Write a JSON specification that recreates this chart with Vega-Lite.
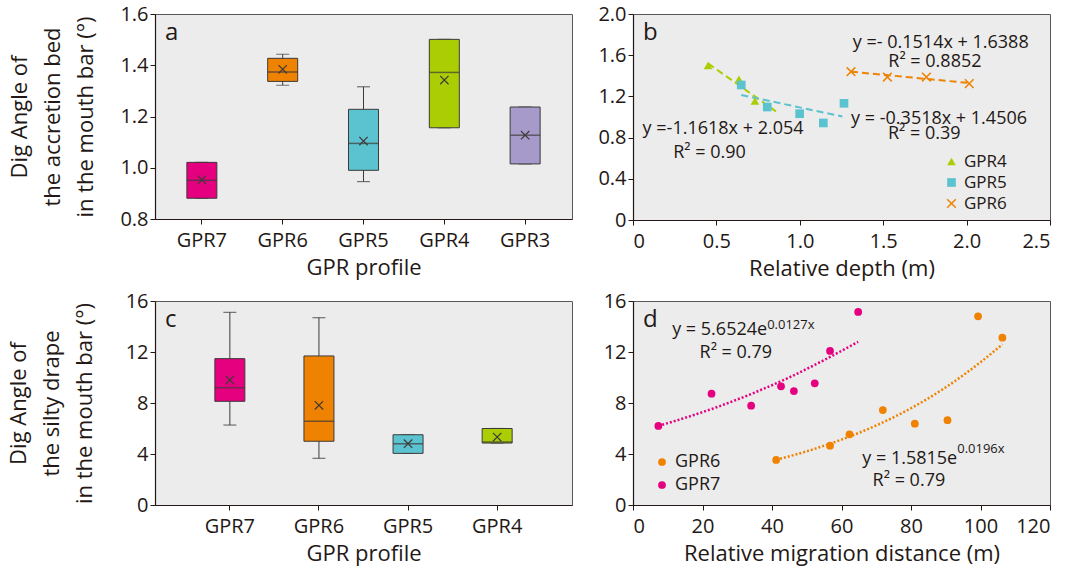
{
  "$schema": "https://vega.github.io/schema/vega-lite/v6.json",
  "background": "white",
  "padding": {"left": 6, "top": 3, "right": 0, "bottom": 2},
  "config": {
    "font": "Open Sans",
    "view": {"fill": "#ececec", "stroke": "#595757", "strokeWidth": 1},
    "axis": {"grid": false, "domainColor": "#231815", "tickColor": "#231815", "labelColor": "#231815", "titleColor": "#231815", "labelFontSize": 20, "titleFontSize": 22, "titleFontWeight": "normal", "tickSize": 5, "labelPadding": 2, "titlePadding": 3, "domainWidth": 1.2},
    "axisX": {"labelPadding": 6, "titlePadding": 7},
    "legend": {"labelColor": "#231815"},
    "text": {"color": "#231815"},
    "title": {"color": "#231815", "fontWeight": "normal", "fontSize": 24}
  },
  "datasets": {
    "boxA": [
      {"profile": "GPR7", "min": 0.881, "q1": 0.881, "median": 0.951, "q3": 1.021, "max": 1.021, "mean": 0.953},
      {"profile": "GPR6", "min": 1.322, "q1": 1.337, "median": 1.374, "q3": 1.427, "max": 1.443, "mean": 1.384},
      {"profile": "GPR5", "min": 0.946, "q1": 0.990, "median": 1.095, "q3": 1.228, "max": 1.316, "mean": 1.104},
      {"profile": "GPR4", "min": 1.156, "q1": 1.156, "median": 1.372, "q3": 1.501, "max": 1.501, "mean": 1.342},
      {"profile": "GPR3", "min": 1.015, "q1": 1.015, "median": 1.127, "q3": 1.237, "max": 1.237, "mean": 1.127}
    ],
    "boxC": [
      {"profile": "GPR7", "min": 6.27, "q1": 8.13, "median": 9.2, "q3": 11.48, "max": 15.11, "mean": 9.8},
      {"profile": "GPR6", "min": 3.66, "q1": 5.0, "median": 6.57, "q3": 11.69, "max": 14.69, "mean": 7.82},
      {"profile": "GPR5", "min": 4.05, "q1": 4.05, "median": 4.81, "q3": 5.51, "max": 5.51, "mean": 4.81},
      {"profile": "GPR4", "min": 4.86, "q1": 4.86, "median": 4.94, "q3": 6.0, "max": 6.0, "mean": 5.33}
    ],
    "depth": [
      {"series": "GPR4", "depth": 0.45, "angle": 1.50},
      {"series": "GPR4", "depth": 0.635, "angle": 1.366},
      {"series": "GPR4", "depth": 0.731, "angle": 1.155},
      {"series": "GPR5", "depth": 0.649, "angle": 1.311},
      {"series": "GPR5", "depth": 0.805, "angle": 1.097},
      {"series": "GPR5", "depth": 0.999, "angle": 1.032},
      {"series": "GPR5", "depth": 1.141, "angle": 0.942},
      {"series": "GPR5", "depth": 1.265, "angle": 1.133},
      {"series": "GPR6", "depth": 1.307, "angle": 1.44},
      {"series": "GPR6", "depth": 1.525, "angle": 1.388},
      {"series": "GPR6", "depth": 1.759, "angle": 1.388},
      {"series": "GPR6", "depth": 2.016, "angle": 1.324}
    ],
    "depthFit": [
      {"series": "GPR4", "depth": 0.45, "angle": 1.52},
      {"series": "GPR4", "depth": 0.857, "angle": 1.055},
      {"series": "GPR5", "depth": 0.649, "angle": 1.214},
      {"series": "GPR5", "depth": 1.255, "angle": 1.005},
      {"series": "GPR6", "depth": 1.307, "angle": 1.44},
      {"series": "GPR6", "depth": 2.016, "angle": 1.33}
    ],
    "depthText": [
      {"x": 1.845, "y": 1.72, "label": "y =- 0.1514x + 1.6388"},
      {"x": 1.81, "y": 1.534, "label": "R² = 0.8852"},
      {"x": 1.835, "y": 0.977, "label": "y = -0.3518x + 1.4506"},
      {"x": 1.746, "y": 0.832, "label": "R² = 0.39"},
      {"x": 0.54, "y": 0.88, "label": "y =-1.1618x + 2.054"},
      {"x": 0.459, "y": 0.653, "label": "R² = 0.90"}
    ],
    "migr": [
      {"series": "GPR7", "dist": 7.3, "angle": 6.2},
      {"series": "GPR7", "dist": 22.6, "angle": 8.73},
      {"series": "GPR7", "dist": 34.0, "angle": 7.79},
      {"series": "GPR7", "dist": 42.6, "angle": 9.31},
      {"series": "GPR7", "dist": 46.3, "angle": 8.94},
      {"series": "GPR7", "dist": 52.3, "angle": 9.54},
      {"series": "GPR7", "dist": 56.7, "angle": 12.08},
      {"series": "GPR7", "dist": 64.8, "angle": 15.14},
      {"series": "GPR6", "dist": 41.2, "angle": 3.53},
      {"series": "GPR6", "dist": 56.7, "angle": 4.65},
      {"series": "GPR6", "dist": 62.3, "angle": 5.54},
      {"series": "GPR6", "dist": 71.9, "angle": 7.45},
      {"series": "GPR6", "dist": 81.1, "angle": 6.38},
      {"series": "GPR6", "dist": 90.5, "angle": 6.65},
      {"series": "GPR6", "dist": 99.3, "angle": 14.8},
      {"series": "GPR6", "dist": 106.3, "angle": 13.12}
    ],
    "migrFit": [
      {"series": "GPR7", "dist": 7.3, "angle": 6.2},
      {"series": "GPR7", "dist": 15, "angle": 6.84},
      {"series": "GPR7", "dist": 25, "angle": 7.76},
      {"series": "GPR7", "dist": 35, "angle": 8.82},
      {"series": "GPR7", "dist": 45, "angle": 10.01},
      {"series": "GPR7", "dist": 55, "angle": 11.37},
      {"series": "GPR7", "dist": 64.8, "angle": 12.8},
      {"series": "GPR6", "dist": 41.2, "angle": 3.55},
      {"series": "GPR6", "dist": 50, "angle": 4.21},
      {"series": "GPR6", "dist": 60, "angle": 5.13},
      {"series": "GPR6", "dist": 70, "angle": 6.24},
      {"series": "GPR6", "dist": 80, "angle": 7.59},
      {"series": "GPR6", "dist": 90, "angle": 9.23},
      {"series": "GPR6", "dist": 100, "angle": 11.2},
      {"series": "GPR6", "dist": 106.3, "angle": 12.6}
    ],
    "migrMain": [
      {"x": 38.6, "y": 13.7, "label": "y = 5.6524e"},
      {"x": 93.3, "y": 3.63, "label": "y = 1.5815e"}
    ],
    "migrSup": [
      {"x": 38.6, "y": 14.14, "label": "0.0127x"},
      {"x": 93.3, "y": 4.42, "label": "0.0196x"}
    ],
    "migrR2": [
      {"x": 29.6, "y": 11.95, "label": "R² = 0.79"},
      {"x": 79.4, "y": 1.86, "label": "R² = 0.79"}
    ]
  },
  "columns": 2,
  "spacing": {"row": 10, "column": 24},
  "concat": [
    {
      "width": 417, "height": 205,
      "title": {"text": "a", "anchor": "start", "frame": "group", "offset": 0, "dx": 10, "dy": 41},
      "data": {"name": "boxA"},
      "encoding": {
        "x": {"field": "profile", "type": "nominal", "sort": ["GPR7", "GPR6", "GPR5", "GPR4", "GPR3"],
              "scale": {"type": "band", "paddingInner": 0, "paddingOuter": 0.08},
              "axis": {"title": "GPR profile", "labelAngle": 0}}
      },
      "layer": [
        {"mark": {"type": "rule", "color": "#3e3a39", "strokeWidth": 1},
         "encoding": {"y": {"field": "min", "type": "quantitative", "scale": {"domain": [0.8, 1.6], "nice": false},
                            "axis": {"values": [0.8, 1.0, 1.2, 1.4, 1.6], "format": ".1f",
                                     "title": ["Dig Angle of", "the accretion bed", "in the mouth bar (°)"],
                                     "titleLineHeight": 33, "titlePadding": 22}},
                      "y2": {"field": "max"}}},
        {"mark": {"type": "tick", "color": "#3e3a39", "size": 13, "thickness": 1.2},
         "encoding": {"y": {"field": "min", "type": "quantitative"}}},
        {"mark": {"type": "tick", "color": "#3e3a39", "size": 13, "thickness": 1.2},
         "encoding": {"y": {"field": "max", "type": "quantitative"}}},
        {"mark": {"type": "bar", "size": 30, "stroke": "#3e3a39", "strokeWidth": 1},
         "encoding": {"y": {"field": "q1", "type": "quantitative"}, "y2": {"field": "q3"},
                      "fill": {"field": "profile", "type": "nominal", "legend": null,
                               "scale": {"domain": ["GPR7", "GPR6", "GPR5", "GPR4", "GPR3"], "range": ["#e4007f", "#ef8200", "#5bc2cf", "#abcd03", "#a59aca"]}}}},
        {"mark": {"type": "tick", "color": "#3e3a39", "size": 30, "thickness": 1.5},
         "encoding": {"y": {"field": "median", "type": "quantitative"}}},
        {"mark": {"type": "point", "shape": "M-1,-1L1,1M-1,1L1,-1", "size": 70, "filled": false, "stroke": "#3e3a39", "strokeWidth": 1.2, "opacity": 1},
         "encoding": {"y": {"field": "mean", "type": "quantitative"}}}
      ]
    },
    {
      "width": 417, "height": 206,
      "title": {"text": "b", "anchor": "start", "frame": "group", "offset": 0, "dx": 10, "dy": 41},
      "encoding": {
        "x": {"field": "depth", "type": "quantitative", "scale": {"domain": [0, 2.5], "nice": false},
              "axis": {"title": "Relative depth (m)", "values": [0, 0.5, 1, 1.5, 2, 2.5],
                       "labelExpr": "datum.value == 0 ? '0' : format(datum.value, '.1f')"}},
        "y": {"field": "angle", "type": "quantitative", "scale": {"domain": [0, 2.0], "nice": false},
              "axis": {"title": null, "values": [0, 0.4, 0.8, 1.2, 1.6, 2.0],
                       "labelExpr": "datum.value == 0 ? '0' : format(datum.value, '.1f')"}}
      },
      "layer": [
        {"data": {"name": "depthFit"}, "transform": [{"filter": "datum.series == 'GPR4'"}],
         "mark": {"type": "line", "strokeDash": [7, 4], "strokeWidth": 2, "color": "#abcd03"}, "encoding": {}},
        {"data": {"name": "depthFit"}, "transform": [{"filter": "datum.series == 'GPR5'"}],
         "mark": {"type": "line", "strokeDash": [7, 4], "strokeWidth": 2, "color": "#5bc2cf"}, "encoding": {}},
        {"data": {"name": "depthFit"}, "transform": [{"filter": "datum.series == 'GPR6'"}],
         "mark": {"type": "line", "strokeDash": [7, 4], "strokeWidth": 2, "color": "#ef8200"}, "encoding": {}},
        {"data": {"name": "depth"},
         "mark": {"type": "point", "size": 75, "strokeWidth": 1.5, "opacity": 1},
         "encoding": {
           "fill": {"field": "series", "type": "nominal", "title": null,
                    "scale": {"domain": ["GPR4", "GPR5", "GPR6"], "range": ["#abcd03", "#5bc2cf", "transparent"]},
                    "legend": {"orient": "none", "legendX": 310, "legendY": 139, "labelFontSize": 17, "rowPadding": 3, "symbolSize": 75, "padding": 0}},
           "stroke": {"field": "series", "type": "nominal", "title": null,
                      "scale": {"domain": ["GPR4", "GPR5", "GPR6"], "range": ["transparent", "transparent", "#ef8200"]}},
           "shape": {"field": "series", "type": "nominal", "title": null,
                     "scale": {"domain": ["GPR4", "GPR5", "GPR6"], "range": ["triangle-up", "square", "M-1,-1L1,1M-1,1L1,-1"]}}
         }},
        {"data": {"name": "depthText"},
         "mark": {"type": "text", "fontSize": 18, "align": "center", "baseline": "middle"},
         "encoding": {"x": {"field": "x", "type": "quantitative"}, "y": {"field": "y", "type": "quantitative"}, "text": {"field": "label"}}}
      ]
    },
    {
      "width": 417, "height": 204,
      "title": {"text": "c", "anchor": "start", "frame": "group", "offset": 0, "dx": 10, "dy": 41},
      "data": {"name": "boxC"},
      "encoding": {
        "x": {"field": "profile", "type": "nominal", "sort": ["GPR7", "GPR6", "GPR5", "GPR4"],
              "scale": {"type": "band", "paddingInner": 0, "paddingOuter": 0.34},
              "axis": {"title": "GPR profile", "labelAngle": 0}}
      },
      "layer": [
        {"mark": {"type": "rule", "color": "#3e3a39", "strokeWidth": 1},
         "encoding": {"y": {"field": "min", "type": "quantitative", "scale": {"domain": [0, 16], "nice": false},
                            "axis": {"values": [0, 4, 8, 12, 16],
                                     "title": ["Dig Angle of", "the silty drape", "in the mouth bar (°)"],
                                     "titleLineHeight": 33, "titlePadding": 29}},
                      "y2": {"field": "max"}}},
        {"mark": {"type": "tick", "color": "#3e3a39", "size": 13, "thickness": 1.2},
         "encoding": {"y": {"field": "min", "type": "quantitative"}}},
        {"mark": {"type": "tick", "color": "#3e3a39", "size": 13, "thickness": 1.2},
         "encoding": {"y": {"field": "max", "type": "quantitative"}}},
        {"mark": {"type": "bar", "size": 30, "stroke": "#3e3a39", "strokeWidth": 1},
         "encoding": {"y": {"field": "q1", "type": "quantitative"}, "y2": {"field": "q3"},
                      "fill": {"field": "profile", "type": "nominal", "legend": null,
                               "scale": {"domain": ["GPR7", "GPR6", "GPR5", "GPR4"], "range": ["#e4007f", "#ef8200", "#5bc2cf", "#abcd03"]}}}},
        {"mark": {"type": "tick", "color": "#3e3a39", "size": 30, "thickness": 1.5},
         "encoding": {"y": {"field": "median", "type": "quantitative"}}},
        {"mark": {"type": "point", "shape": "M-1,-1L1,1M-1,1L1,-1", "size": 70, "filled": false, "stroke": "#3e3a39", "strokeWidth": 1.2, "opacity": 1},
         "encoding": {"y": {"field": "mean", "type": "quantitative"}}}
      ]
    },
    {
      "width": 417, "height": 204,
      "title": {"text": "d", "anchor": "start", "frame": "group", "offset": 0, "dx": 10, "dy": 41},
      "encoding": {
        "x": {"field": "dist", "type": "quantitative", "scale": {"domain": [0, 120], "nice": false},
              "axis": {"title": "Relative migration distance (m)", "values": [0, 20, 40, 60, 80, 100, 120]}},
        "y": {"field": "angle", "type": "quantitative", "scale": {"domain": [0, 16], "nice": false},
              "axis": {"title": null, "values": [0, 4, 8, 12, 16]}}
      },
      "layer": [
        {"data": {"name": "migrFit"}, "transform": [{"filter": "datum.series == 'GPR7'"}],
         "mark": {"type": "line", "strokeDash": [2, 2], "strokeWidth": 2.5, "color": "#e4007f", "interpolate": "monotone"}, "encoding": {}},
        {"data": {"name": "migrFit"}, "transform": [{"filter": "datum.series == 'GPR6'"}],
         "mark": {"type": "line", "strokeDash": [2, 2], "strokeWidth": 2.5, "color": "#ef8200", "interpolate": "monotone"}, "encoding": {}},
        {"data": {"name": "migr"},
         "mark": {"type": "point", "filled": true, "size": 60, "opacity": 1},
         "encoding": {"color": {"field": "series", "type": "nominal", "title": null,
                                "scale": {"domain": ["GPR6", "GPR7"], "range": ["#ef8200", "#e4007f"]},
                                "legend": {"orient": "none", "legendX": 20, "legendY": 152, "labelFontSize": 18, "rowPadding": 5, "symbolSize": 60, "symbolType": "circle", "padding": 0}}}},
        {"data": {"name": "migrMain"},
         "mark": {"type": "text", "fontSize": 18, "align": "right", "baseline": "middle"},
         "encoding": {"x": {"field": "x", "type": "quantitative"}, "y": {"field": "y", "type": "quantitative"}, "text": {"field": "label"}}},
        {"data": {"name": "migrSup"},
         "mark": {"type": "text", "fontSize": 13, "align": "left", "baseline": "middle"},
         "encoding": {"x": {"field": "x", "type": "quantitative"}, "y": {"field": "y", "type": "quantitative"}, "text": {"field": "label"}}},
        {"data": {"name": "migrR2"},
         "mark": {"type": "text", "fontSize": 18, "align": "center", "baseline": "middle"},
         "encoding": {"x": {"field": "x", "type": "quantitative"}, "y": {"field": "y", "type": "quantitative"}, "text": {"field": "label"}}}
      ]
    }
  ],
  "resolve": {
    "scale": {"x": "independent", "y": "independent", "color": "independent", "fill": "independent", "stroke": "independent", "shape": "independent"},
    "legend": {"color": "independent", "fill": "independent", "stroke": "independent", "shape": "independent"}
  }
}
